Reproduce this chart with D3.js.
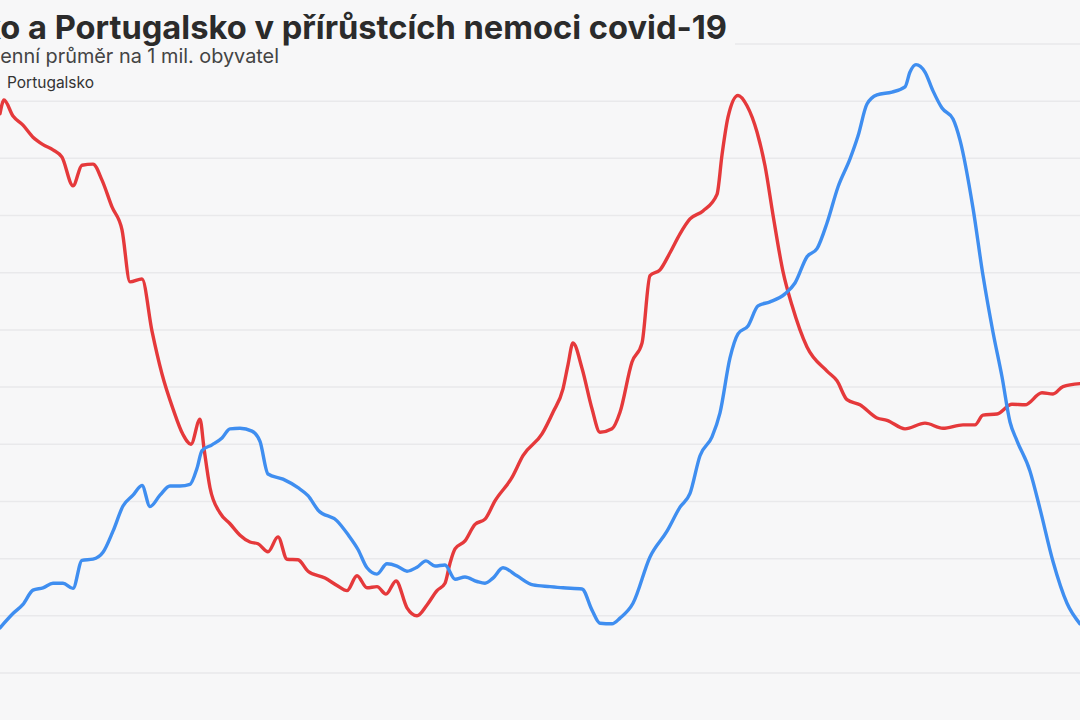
<!DOCTYPE html>
<html lang="cs">
<head>
<meta charset="utf-8">
<script src="https://cdn.jsdelivr.net/npm/d3@7.9.0/dist/d3.min.js"></script>
<style>
  html, body { margin: 0; padding: 0; background: #f7f7f8; overflow: hidden; }
  svg { display: block; font-family: Inter, "Noto Sans", sans-serif; }
</style>
</head>
<body>
<svg id="chart" width="1080" height="720"></svg>
<script>
// values: 7-day average per 1 mil. inhabitants, day index along x
const czDays = [0, 0.8, 2.6, 4.6, 6.6, 8.6, 10.6, 12.4, 14.6, 16.4, 18.6, 20.4, 22.4, 24.4, 26, 28.4, 30.4, 32.4, 34.6, 36.6,
  38.2, 40, 40.8, 42, 44, 46, 48, 50, 51.6, 53.6, 55.6, 57.4, 59.6, 61.6, 65, 67.4, 69.4, 71.4, 73.4, 75.4,
  77.2, 79.2, 81.4, 83.4, 85.4, 87.4, 89, 90, 91, 93, 95, 97, 99, 102.4, 104.6, 108.4, 110.6, 112.6, 113.6, 114.6,
  116.4, 118.4, 120, 122.4, 124, 126.4, 128.4, 130, 132, 134, 136, 138, 140.6, 143.4, 144.4, 145.6, 147.6, 149.4, 151.4, 153,
  154.6, 156.6, 158.4, 161.4, 165.4, 167.4, 169.4, 172, 175.4, 177.4, 181, 185, 188.6, 192.6, 195, 196.6, 199.4, 202.4, 205, 208.4,
  210.6, 212.6, 216];
const czValues = [978, 1002, 974, 958, 937, 924, 915, 902, 852, 888, 890, 862, 815, 775, 684, 689, 598, 523, 462, 417,
  400, 444, 393, 324, 280, 261, 241, 229, 226, 212, 238, 199, 198, 178, 166, 153, 144, 170, 149, 151,
  138, 161, 114, 100, 119, 144, 157, 192, 217, 231, 260, 269, 301, 342, 380, 418, 456, 497, 539, 577,
  533, 462, 421, 427, 456, 544, 577, 695, 705, 735, 768, 794, 808, 837, 906, 972, 1010, 992, 946, 887,
  801, 702, 643, 570, 528, 511, 478, 469, 446, 442, 427, 437, 428, 434, 434, 451, 453, 470, 469, 490,
  488, 501, 506];

const ptDays = [0, 2.6, 4.6, 6.6, 8.6, 10.6, 12.6, 14.6, 16.4, 18.6, 20.6, 22.6, 24.6, 26.6, 28.4, 30, 32, 34, 36, 38,
  39.4, 40.4, 42.4, 44.4, 46, 48, 50.4, 52, 53.6, 56.6, 59.6, 61.6, 63.6, 67.4, 69.6, 71.6, 73.4, 75.4, 77.4, 79.4,
  81.4, 83.4, 85.2, 87, 89, 91, 93, 95.4, 97, 98.6, 100.6, 103.4, 106.6, 110, 112.6, 116.4, 118.4, 120, 122.4, 124,
  126.6, 130, 133.4, 136, 138, 140, 142.4, 144, 146, 147.6, 149.6, 151.6, 154, 157, 159, 161.4, 163.4, 165.4, 167.6, 170,
  171.6, 173.4, 175.4, 178.4, 181, 182, 183.2, 185, 186.6, 188.4, 190.6, 192, 194.6, 196.6, 198.6, 200.4, 202, 203.4, 206, 208,
  210.6, 213.4, 216];
const ptValues = [79, 104, 120, 145, 149, 157, 157, 148, 197, 199, 211, 248, 292, 311, 328, 291, 311, 327, 327, 330,
  358, 389, 399, 411, 427, 428, 423, 405, 348, 339, 324, 310, 285, 266, 242, 216, 184, 173, 191, 187,
  178, 185, 196, 187, 189, 164, 168, 160, 157, 166, 184, 170, 154, 151, 149, 147, 110, 87, 86, 96,
  122, 203, 248, 290, 314, 380, 413, 455, 551, 593, 607, 642, 649, 663, 682, 728, 742, 787, 850, 899,
  939, 995, 1011, 1016, 1025, 1051, 1064, 1051, 1018, 988, 969, 932, 813, 695, 596, 518, 439, 406, 353, 287,
  195, 122, 86];

const gridTicks = d3.range(0, 1101, 100);

const titleText = "Česko a Portugalsko v přírůstcích nemoci covid-19";
const subtitleText = "Sedmidenní průměr na 1 mil. obyvatel";
const legendItems = [
  { name: "Česko", color: "#e5393b" },
  { name: "Portugalsko", color: "#3f8ef0" }
];

const svg = d3.select("#chart");
const width = 1080;

const x = d3.scaleLinear().domain([0, 216]).range([0, width]);
const y = d3.scaleLinear().domain([0, 1100]).range([673, 44]);

svg.append("rect").attr("width", 1080).attr("height", 720).attr("fill", "#f7f7f8");

// gridlines
svg.append("g")
  .selectAll("line")
  .data(gridTicks)
  .join("line")
  .attr("x1", 0)
  .attr("x2", width)
  .attr("y1", d => y(d))
  .attr("y2", d => y(d))
  .attr("stroke", "#e9e9eb")
  .attr("stroke-width", 1.5);

const line = d3.line()
  .x(d => x(d[0]))
  .y(d => y(d[1]))
  .curve(d3.curveMonotoneX);

const series = [
  { points: d3.zip(czDays, czValues), color: legendItems[0].color },
  { points: d3.zip(ptDays, ptValues), color: legendItems[1].color }
];

svg.append("g")
  .selectAll("path")
  .data(series)
  .join("path")
  .attr("fill", "none")
  .attr("stroke", d => d.color)
  .attr("stroke-width", 3.4)
  .attr("stroke-linejoin", "round")
  .attr("stroke-linecap", "round")
  .attr("d", d => line(d.points));

// title block sits over the top gridline
svg.append("rect")
  .attr("x", 0).attr("y", 14)
  .attr("width", 735).attr("height", 36)
  .attr("fill", "#f7f7f8");

// fit a text so that the visible part (after `cut` chars) has the given width
function fitText(sel, full, cut, targetWidth, baseSize) {
  const probe = svg.append("text")
    .attr("font-size", baseSize)
    .attr("font-weight", sel.attr("font-weight"))
    .text(full.slice(cut));
  const w = probe.node().getComputedTextLength();
  probe.remove();
  sel.attr("font-size", baseSize * targetWidth / w).text(full);
}

const title = svg.append("text")
  .attr("x", 727).attr("y", 39)
  .attr("text-anchor", "end")
  .attr("font-weight", 700)
  .attr("fill", "#2b2b2b");
fitText(title, titleText, 4, 727, 30);

const subtitle = svg.append("text")
  .attr("x", 279).attr("y", 63)
  .attr("text-anchor", "end")
  .attr("font-weight", 400)
  .attr("fill", "#444");
fitText(subtitle, subtitleText, 6, 279, 18);

// legend: Portugalsko starts at x=7, Česko sits left of it
const legend = svg.append("g").attr("font-size", 15).attr("fill", "#333");
const ptLabel = legend.append("text")
  .attr("x", 7).attr("y", 88)
  .attr("font-weight", 400);
fitText(ptLabel, legendItems[1].name, 0, 87, 15);
const legendSize = +ptLabel.attr("font-size");
legend.append("rect")
  .attr("x", -18).attr("y", 80)
  .attr("width", 12).attr("height", 3)
  .attr("fill", legendItems[1].color);
legend.append("text")
  .attr("x", -28).attr("y", 88)
  .attr("text-anchor", "end")
  .attr("font-size", legendSize)
  .text(legendItems[0].name);
legend.append("rect")
  .attr("x", -90).attr("y", 80)
  .attr("width", 12).attr("height", 3)
  .attr("fill", legendItems[0].color);
</script>
</body>
</html>
